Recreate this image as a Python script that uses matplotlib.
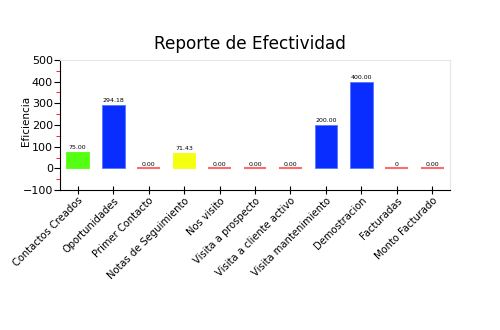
import matplotlib.pyplot as plt
from matplotlib.ticker import MultipleLocator

categorias = ["Contactos Creados", "Oportunidades", "Primer Contacto", "Notas de Seguimiento",
              "Nos visito", "Visita a prospecto", "Visita a cliente activo", "Visita mantenimiento",
              "Demostracion", "Facturadas", "Monto Facturado"]
valores = [75.00, 294.18, 0.00, 71.43, 0.00, 0.00, 0.00, 200.00, 400.00, 0, 0.00]
etiquetas = ["75.00", "294.18", "0.00", "71.43", "0.00", "0.00", "0.00", "200.00", "400.00", "0", "0.00"]
colores = ["#55ff11", "#0a2dff", "#ff6b6b", "#f5ff10", "#ff6b6b", "#ff6b6b", "#ff6b6b",
           "#0a2dff", "#0a2dff", "#ff6b6b", "#ff6b6b"]

fig = plt.figure(figsize=(5, 3.3), dpi=100)
ax = fig.add_axes([0.12, 0.4242, 0.78, 0.394])

x = range(len(categorias))
for i, (v, c) in enumerate(zip(valores, colores)):
    if v == 0:
        # barras en cero: solo una linea roja
        ax.plot([i - 0.32, i + 0.32], [0, 0], color=c, lw=1.5, solid_capstyle="butt")
    else:
        ax.bar(i, v, width=0.64, color=c, edgecolor="#5577ff" if c == "#0a2dff" else c, linewidth=0.6)
    ax.text(i, v + 8, etiquetas[i], ha="center", va="bottom", fontsize=4.5)

ax.set_xlim(-0.5, len(categorias) - 0.5)
ax.set_ylim(-100, 500)
ax.yaxis.set_major_locator(MultipleLocator(100))
ax.yaxis.set_minor_locator(MultipleLocator(50))
ax.tick_params(axis="y", which="major", length=4, labelsize=8, pad=1)
ax.tick_params(axis="y", which="minor", length=3, color="red")
ax.tick_params(axis="x", direction="inout", length=6, labelsize=7.2, pad=1)
ax.set_xticks(list(x))
ax.set_xticklabels(categorias, rotation=45, ha="right", rotation_mode="anchor")

ax.spines["top"].set_color("#e6e6e6")
ax.spines["right"].set_color("#e6e6e6")
ax.set_ylabel("Eficiencia", fontsize=7.5)
ax.yaxis.set_label_coords(-0.075, 0.53)
fig.suptitle("Reporte de Efectividad", fontsize=12.2, y=0.895)

fig.savefig("out.png", dpi=100)
